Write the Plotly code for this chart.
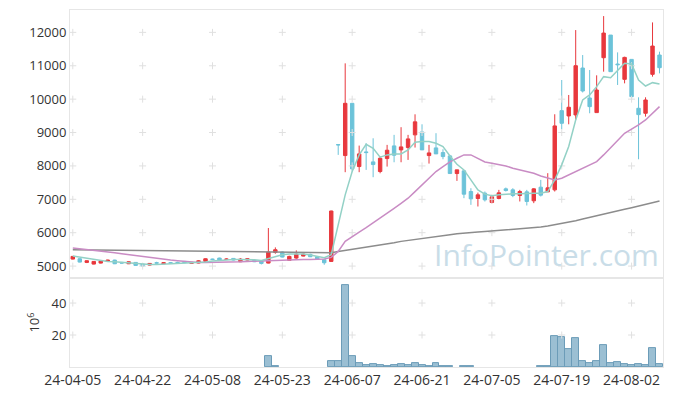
import plotly.graph_objects as go
from plotly.subplots import make_subplots

dates = [
    "24-04-05", "24-04-08", "24-04-09", "24-04-11", "24-04-12", "24-04-15", "24-04-16", "24-04-17", "24-04-18", "24-04-19",
    "24-04-22", "24-04-23", "24-04-24", "24-04-25", "24-04-26", "24-04-29", "24-04-30", "24-05-02", "24-05-03", "24-05-07",
    "24-05-08", "24-05-09", "24-05-10", "24-05-13", "24-05-14", "24-05-16", "24-05-17", "24-05-20", "24-05-21", "24-05-22",
    "24-05-23", "24-05-24", "24-05-27", "24-05-28", "24-05-29", "24-05-30", "24-05-31", "24-06-03", "24-06-04", "24-06-05",
    "24-06-07", "24-06-10", "24-06-11", "24-06-12", "24-06-13", "24-06-14", "24-06-17", "24-06-18", "24-06-19", "24-06-20",
    "24-06-21", "24-06-24", "24-06-25", "24-06-26", "24-06-27", "24-06-28", "24-07-01", "24-07-02", "24-07-03", "24-07-04",
    "24-07-05", "24-07-08", "24-07-09", "24-07-10", "24-07-11", "24-07-12", "24-07-15", "24-07-16", "24-07-17", "24-07-18",
    "24-07-19", "24-07-22", "24-07-23", "24-07-24", "24-07-25", "24-07-26", "24-07-29", "24-07-30", "24-07-31", "24-08-01",
    "24-08-02", "24-08-05", "24-08-06", "24-08-07", "24-08-08",
]

open_ = [5210, 5220, 5110, 5060, 5090, 5140, 5180, 5110, 5070, 5110,
         5060, 5030, 5100, 5070, 5100, 5110, 5140, 5080, 5090, 5140,
         5210, 5240, 5200, 5230, 5130, 5180, 5170, 5150, 5090, 5410,
         5420, 5170, 5240, 5300, 5350, 5280, 5190, 5140, 8640, 8310,
         9875, 7981, 8420, 8121, 7832, 8220, 8600, 8480, 8550, 8930,
         9018, 8310, 8540, 8400, 8300, 7772, 7852, 7233, 7024, 7184,
         6905, 7024, 7313, 7283, 7114, 7223, 6955, 7363, 7223, 7283,
         9656, 9497, 9527, 10932, 10035, 9597, 11241, 11919, 11052, 10593,
         11191, 9726, 9577, 10743, 11321]
high = [5300, 5230, 5170, 5150, 5170, 5190, 5190, 5120, 5140, 5120,
        5070, 5090, 5130, 5110, 5120, 5130, 5150, 5120, 5180, 5230,
        5220, 5250, 5230, 5240, 5240, 5230, 5180, 5170, 6140, 5560,
        5440, 5310, 5470, 5380, 5370, 5290, 5200, 6660, 8640, 11072,
        9875, 8609, 8679, 8828, 8280, 8630, 8930, 9160, 8930, 9546,
        9247, 8630, 8980, 8500, 8330, 7882, 7852, 7333, 7200, 7234,
        7134, 7283, 7353, 7333, 7283, 7283, 7333, 7582, 7782, 9547,
        10573, 10125, 12069, 11321, 10872, 10713, 12488, 11919, 11401, 11271,
        11191, 10055, 10055, 12298, 11421]
low = [5200, 5110, 5090, 5050, 5080, 5130, 5060, 5080, 5060, 5010,
       4990, 5020, 5070, 5060, 5080, 5090, 5090, 5070, 5080, 5130,
       5180, 5170, 5190, 5170, 5120, 5170, 5120, 5050, 5080, 5370,
       5260, 5160, 5220, 5290, 5270, 5190, 5040, 5130, 8330, 7812,
       7830, 7812, 7881, 7662, 7780, 7980, 8110, 8110, 8180, 8550,
       8480, 8070, 8360, 8200, 7772, 7552, 7034, 6834, 6785, 6934,
       6880, 7000, 7233, 7064, 6935, 6815, 6885, 7084, 7223, 7233,
       9098, 9247, 9377, 10200, 9577, 9597, 10823, 10823, 10424, 10473,
       9975, 8200, 9477, 10673, 10772]
close = [5290, 5120, 5160, 5140, 5160, 5180, 5070, 5090, 5130, 5020,
         5000, 5080, 5090, 5100, 5090, 5100, 5100, 5110, 5160, 5220,
         5200, 5180, 5210, 5180, 5210, 5220, 5130, 5080, 5420, 5490,
         5270, 5290, 5360, 5360, 5280, 5200, 5100, 6650, 8630, 9875,
         7911, 8360, 8400, 8041, 8230, 8470, 8320, 8570, 8810, 9320,
         8480, 8390, 8360, 8280, 7772, 7882, 7153, 7014, 7134, 6984,
         7074, 7194, 7263, 7114, 7233, 6935, 7313, 7124, 7343, 9198,
         9277, 9757, 11002, 10244, 9776, 10274, 11979, 10823, 11032, 11251,
         10075, 9537, 9975, 11590, 10942]

ma5 = [5300, 5270, 5230, 5190, 5160, 5140, 5130, 5110, 5100, 5080,
       5060, 5050, 5050, 5060, 5070, 5080, 5090, 5090, 5100, 5120,
       5150, 5170, 5190, 5200, 5200, 5200, 5190, 5170, 5230, 5300,
       5340, 5360, 5370, 5360, 5330, 5300, 5250, 5340, 6236, 7134,
       7832, 8330, 8649, 8530, 8260, 8330, 8360, 8360, 8480, 8709,
       8729, 8729, 8679, 8580, 8300, 8050, 7881, 7582, 7283, 7154,
       7104, 7134, 7154, 7164, 7164, 7184, 7184, 7184, 7233, 7582,
       8031, 8580, 9377, 9975, 10125, 10374, 10673, 10643, 10872, 11072,
       11052, 10573, 10394, 10494, 10454]
ma20 = [5540, 5520, 5500, 5480, 5460, 5430, 5400, 5370, 5340, 5310,
        5280, 5250, 5230, 5200, 5180, 5160, 5140, 5120, 5110, 5110,
        5110, 5110, 5120, 5120, 5130, 5140, 5150, 5150, 5160, 5170,
        5180, 5180, 5190, 5200, 5200, 5200, 5210, 5260, 5440, 5740,
        5890, 6020, 6150, 6290, 6436, 6580, 6730, 6880, 7034, 7230,
        7430, 7630, 7831, 7980, 8120, 8230, 8330, 8330, 8230, 8120,
        8080, 8040, 8000, 7931, 7880, 7830, 7782, 7700, 7632, 7582,
        7632, 7730, 7832, 7930, 8030, 8130, 8330, 8530, 8760, 8978,
        9100, 9227, 9377, 9580, 9776]
ma60 = [5490, 5487, 5485, 5482, 5479, 5476, 5473, 5471, 5468, 5465,
        5462, 5459, 5457, 5454, 5451, 5448, 5446, 5443, 5440, 5437,
        5434, 5432, 5429, 5426, 5423, 5420, 5418, 5415, 5412, 5409,
        5406, 5404, 5401, 5398, 5395, 5393, 5390, 5400, 5440, 5470,
        5500, 5530, 5570, 5600, 5640, 5670, 5700, 5740, 5770, 5800,
        5840, 5865, 5890, 5915, 5940, 5965, 5990, 6005, 6020, 6035,
        6050, 6065, 6080, 6095, 6110, 6125, 6140, 6170, 6200, 6235,
        6270, 6315, 6360, 6410, 6455, 6500, 6550, 6600, 6650, 6700,
        6750, 6800, 6850, 6900, 6950]

# None = no visible volume bar
volume = [None, None, None, None, None, None, None, None, None, None,
          None, None, None, None, None, None, None, None, None, None,
          None, None, None, None, None, None, None, None, 6.9, 0.6,
          None, None, None, None, None, None, None, 3.5, 3.5, 51.0,
          6.9, 2.3, 1.0, 1.8, 1.0, 0.5, 1.0, 1.8, 1.0, 2.3,
          1.0, 0.5, 2.3, 0.4, 0.4, None, 0.3, 0.3, None, None,
          None, None, None, None, None, None, None, 0.3, 0.3, 19.6,
          19.0, 11.2, 18.1, 3.4, 2.2, 3.5, 13.7, 2.2, 2.9, 1.6,
          1.1, 1.6, 1.1, 11.8, 1.6]

price_ticks = [5000, 6000, 7000, 8000, 9000, 10000, 11000, 12000]
vol_ticks = [20, 40]
tick_every = 10

RED = "#e8383d"
BLUE = "#6cc3d9"
FONT = "Open Sans"
TXT = "#333333"

xi = list(range(len(dates)))
tickpos = xi[::tick_every]
ticklab = dates[::tick_every]

fig = make_subplots(rows=2, cols=1, shared_xaxes=True, vertical_spacing=0,
                    row_heights=[0.751, 0.249])

# grid crosses at tick intersections
cross = dict(symbol="cross-thin", size=5, line=dict(color="#e0e0e0", width=1))
gx, gy = [], []
for t in tickpos:
    for p in price_ticks:
        gx.append(t); gy.append(p)
fig.add_trace(go.Scatter(x=gx, y=gy, mode="markers", hoverinfo="skip",
                         marker=cross, showlegend=False), row=1, col=1)
vx, vy = [], []
for t in tickpos:
    for v in vol_ticks:
        vx.append(t); vy.append(v)
fig.add_trace(go.Scatter(x=vx, y=vy, mode="markers", hoverinfo="skip",
                         marker=cross, showlegend=False), row=2, col=1)

fig.add_trace(go.Scatter(x=xi, y=ma60, mode="lines",
                         line=dict(color="#8c8c8c", width=1.5), showlegend=False), row=1, col=1)
fig.add_trace(go.Scatter(x=xi, y=ma20, mode="lines",
                         line=dict(color="#c98cc4", width=1.5), showlegend=False), row=1, col=1)
fig.add_trace(go.Scatter(x=xi, y=ma5, mode="lines",
                         line=dict(color="#93d1c6", width=1.5), showlegend=False), row=1, col=1)

fig.add_trace(go.Candlestick(x=xi, open=open_, high=high, low=low, close=close,
                             increasing=dict(line=dict(color=RED, width=1), fillcolor=RED),
                             decreasing=dict(line=dict(color=BLUE, width=1), fillcolor=BLUE),
                             whiskerwidth=0, showlegend=False), row=1, col=1)

fig.add_trace(go.Bar(x=xi, y=volume, width=1,
                     marker=dict(color="rgba(130,175,200,0.8)",
                                 line=dict(color="#6c9cb8", width=1)),
                     showlegend=False), row=2, col=1)

fig.add_annotation(text="InfoPointer.com", xref="paper", yref="paper", x=0.803, y=0.314,
                   xanchor="center", yanchor="middle",
                   showarrow=False, font=dict(family=FONT, size=30, color="#c9dde8"))
fig.add_annotation(text="10<sup>6</sup>", xref="paper", yref="paper", x=-0.062, y=0.125,
                   xanchor="center", yanchor="middle", textangle=-90,
                   showarrow=False, font=dict(family=FONT, size=13, color=TXT))

axis_common = dict(showline=True, linecolor="#e6e6e6", linewidth=1, mirror=True,
                   showgrid=False, zeroline=False, ticks="", automargin=False)
fig.update_xaxes(range=[-0.4, 84.5], rangeslider_visible=False,
                 tickvals=tickpos, ticktext=ticklab, **axis_common)
fig.update_xaxes(showticklabels=False, row=1, col=1)
fig.update_xaxes(showticklabels=True, tickfont=dict(family=FONT, size=14, color=TXT), row=2, col=1)
fig.update_yaxes(range=[4640, 12670], tickvals=price_ticks, tickformat="d",
                 tickfont=dict(family=FONT, size=13, color=TXT), row=1, col=1, **axis_common)
fig.update_yaxes(range=[0, 55.6], tickvals=vol_ticks,
                 tickfont=dict(family=FONT, size=13, color=TXT),
                 row=2, col=1, **axis_common)

# the page adds an 8px body margin; size the figure so it fits the window
fig.update_layout(width=665, height=380, margin=dict(l=62, r=10, t=2, b=21),
                  plot_bgcolor="white", paper_bgcolor="white", bargap=0,
                  font=dict(family=FONT), hovermode=False)

fig.write_html("out.html")
